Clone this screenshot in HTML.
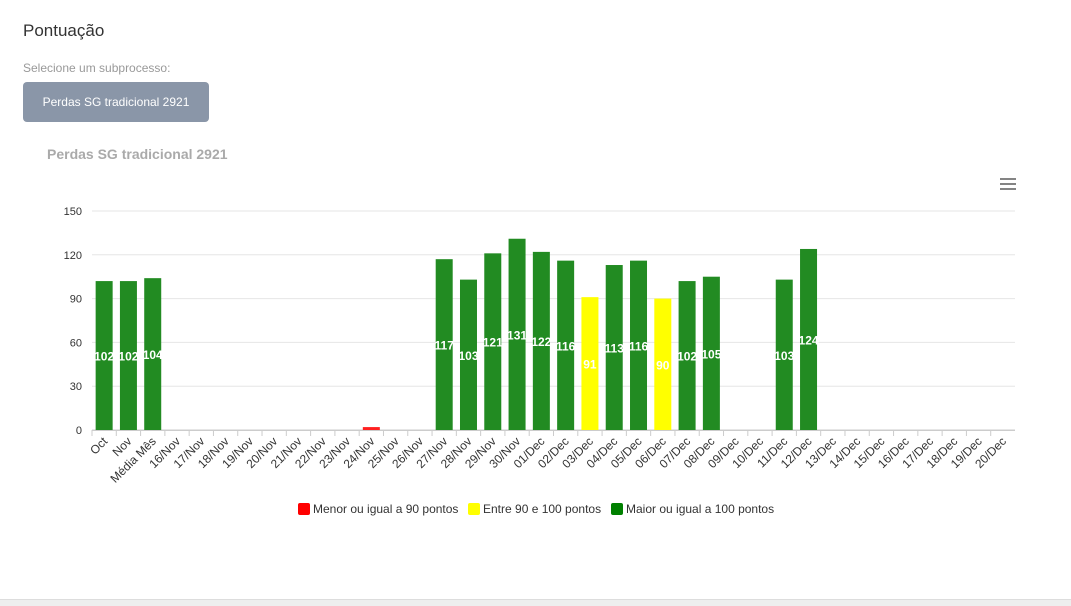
<!DOCTYPE html>
<html><head><meta charset="utf-8"><style>
body{margin:0;width:1071px;height:605px;background:#fff;font-family:"Liberation Sans",Arial,sans-serif;overflow:hidden;position:relative}
.h{position:absolute;left:23px;top:21px;font-size:17px;color:#333}
.s{position:absolute;left:23px;top:61px;font-size:12px;color:#999}
.b{position:absolute;left:23px;top:82px;width:186px;height:40px;background:#8a96a8;border-radius:4px;color:#fff;font-size:12px;text-align:center;line-height:40px}
.foot{position:absolute;left:0;top:599px;width:1071px;height:6px;background:#eee;border-top:1px solid #ddd}
</style></head><body>
<div class="h">Pontuação</div>
<div class="s">Selecione um subprocesso:</div>
<div class="b">Perdas SG tradicional 2921</div>
<svg id="c" width="1071" height="605" style="position:absolute;left:0;top:0">
<text x="47" y="159" font-size="14" font-weight="bold" fill="#aaa">Perdas SG tradicional 2921</text>
<g stroke="#666" stroke-width="1.6"><line x1="1000" y1="179" x2="1016" y2="179"/><line x1="1000" y1="184" x2="1016" y2="184"/><line x1="1000" y1="189" x2="1016" y2="189"/></g>
<g font-size="12" fill="#333">
<g><rect x="298" y="503" width="12" height="12" rx="2" fill="#ff0000"/><text x="313" y="513">Menor ou igual a 90 pontos</text></g>
<g><rect x="468" y="503" width="12" height="12" rx="2" fill="#ffff00"/><text x="483" y="513">Entre 90 e 100 pontos</text></g>
<g><rect x="611" y="503" width="12" height="12" rx="2" fill="#008000"/><text x="626" y="513">Maior ou igual a 100 pontos</text></g>
</g>
</svg>
<div class="foot"></div>
<script>
const categories=["Oct","Nov","Média Mês","16/Nov","17/Nov","18/Nov","19/Nov","20/Nov","21/Nov","22/Nov","23/Nov","24/Nov","25/Nov","26/Nov","27/Nov","28/Nov","29/Nov","30/Nov","01/Dec","02/Dec","03/Dec","04/Dec","05/Dec","06/Dec","07/Dec","08/Dec","09/Dec","10/Dec","11/Dec","12/Dec","13/Dec","14/Dec","15/Dec","16/Dec","17/Dec","18/Dec","19/Dec","20/Dec"];
const values=[102,102,104,null,null,null,null,null,null,null,null,2,null,null,117,103,121,131,122,116,91,113,116,90,102,105,null,null,103,124,null,null,null,null,null,null,null,null];
const colors=["g","g","g",null,null,null,null,null,null,null,null,"r",null,null,"g","g","g","g","g","g","y","g","g","y","g","g",null,null,"g","g",null,null,null,null,null,null,null,null];
const yTicks=[0,30,60,90,120,150];
const NS="http://www.w3.org/2000/svg",svg=document.getElementById('c');
const X0=92,X1=1015,Y0=430,Y1=211,YMAX=150;
const bw=(X1-X0)/categories.length;
const y=v=>Y0-(v/YMAX)*(Y0-Y1);
const x=i=>X0+bw*i;
const cmap={g:"#228b22",y:"#ffff00",r:"#ff2020"};
function el(t,a,txt){const e=document.createElementNS(NS,t);for(const k in a)e.setAttribute(k,a[k]);if(txt!=null)e.textContent=txt;svg.appendChild(e);return e;}
yTicks.forEach(t=>{
 const g=el('line',{x1:X0,x2:X1,y1:y(t),y2:y(t),stroke:t?"#e6e6e6":"#ccc","stroke-width":1});
 
 
 const l=el('text',{x:82,y:y(t)+4,"text-anchor":"end","font-size":11,fill:"#333"},t);
 
 
});
categories.forEach((c,i)=>{
 const tk=el('line',{x1:x(i),x2:x(i),y1:Y0,y2:Y0+6,stroke:"#ccc"});
 
 
 const cx=x(i)+bw/2;
 const t=el('text',{x:cx+4,y:Y0+12,"text-anchor":"end","font-size":12,fill:"#333",transform:`rotate(-45 ${cx+4} ${Y0+12})`},c);
 
 
 const v=values[i];
 if(v!=null){
  const w=bw*0.7;
  const r=el('rect',{x:cx-w/2,y:y(v),width:w,height:Y0-y(v),fill:cmap[colors[i]]});
  
  
  if(v>10){
   const lb=el('text',{x:cx,y:(y(v)+Y0)/2+5,"text-anchor":"middle","font-size":12,"font-weight":"bold",fill:"#fff"},v);
   
   
  }
 }
});
const xl=el('line',{x1:X0,x2:X1,y1:Y0+0.5,y2:Y0+0.5,stroke:"#ccc"});


</script>
</body></html>
